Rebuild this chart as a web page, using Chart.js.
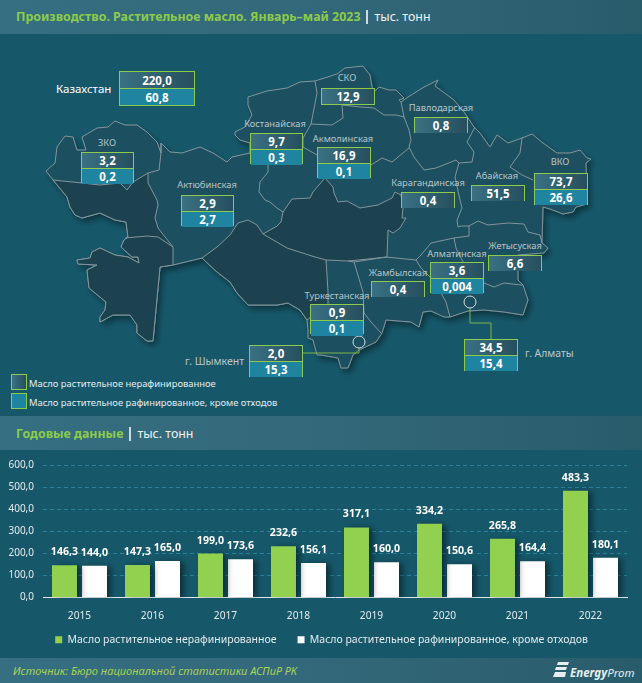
<!DOCTYPE html>
<html>
<head>
<meta charset="utf-8">
<script src="https://cdn.jsdelivr.net/npm/chart.js@4"></script>
<style>
  html, body { margin: 0; padding: 0; }
  body { width: 642px; height: 683px; position: relative; overflow: hidden; background: #16586a; font-family: "Noto Sans", sans-serif; }
  .band { position: absolute; left: 0; width: 642px; background: linear-gradient(90deg, #356f81 0%, #33687a 50%, #295c6b 100%); }
  .head { position: absolute; white-space: nowrap; font-weight: 700; color: #8ccc4a; font-size: 12.4px; line-height: 20px; }
  .head span { color: #eef3f4; font-weight: 400; }
  .head i { display: inline-block; width: 2px; height: 14px; background: #cfdade; margin: 0 6px 0 6px; vertical-align: -3px; }
  .box { position: absolute; box-sizing: border-box; border: 1px solid #8ccc4a; display: flex; flex-direction: column; color: #fff; font-weight: 700; font-size: 11.5px; text-align: center; }
  .box div { flex: 1; display: flex; align-items: center; justify-content: center; }
  .box .a { background: linear-gradient(90deg, #3a7183, #264f5e); }
  .box .b { background: #1f849f; border-top: 1px solid #8ccc4a; }
  .lbl { position: absolute; transform: translate(-50%, -50%); white-space: nowrap; color: #b9c6ca; font-size: 9.3px; }
  .txt { position: absolute; transform: translateY(-50%); white-space: nowrap; color: #e4ebed; font-size: 9.4px; }
  #bars { position: absolute; left: 0; top: 450px; }
</style>
</head>
<body>
<div class="band" style="top:0;height:34px"></div>
<div class="band" style="top:415px;height:35px;border-top:1px solid #1a5567;box-sizing:border-box"></div>
<div class="band" style="top:658px;height:25px"></div>

<svg width="642" height="415" style="position:absolute;left:0;top:0" xmlns="http://www.w3.org/2000/svg">
  <defs>
    <filter id="sh" x="-10%" y="-10%" width="125%" height="125%">
      <feDropShadow dx="3" dy="4" stdDeviation="3" flood-color="#000" flood-opacity="0.4"/>
    </filter>
  </defs>
  <g stroke="#84959a" stroke-width="1" stroke-linejoin="round" fill="none">
    <polygon filter="url(#sh)" fill="#1f4f5e" points="46,171 55,163 57,147 65,136 73,137 77,150 86,150 82,137 97,128 108,127 115,121 125,125 137,125 147,132 157,142 161,153 161,143 170,152 182,153 200,147 213,153 227,162 232,157 250,153 250,143 240,140 235,135 235,132 245,127 252,115 248,105 248,97 267,91 287,88 300,82 315,81 337,74 345,68 363,66 370,75 372,87 374,92 379,87 389,90 396,90 404,98 399,100 401,102 408,97 424,87 438,80 435,86 454,100 464,112 474,127 480,133 490,147 497,135 508,143 522,138 532,134 543,143 557,153 570,153 580,150 587,158 591,159 586,163 587,204 576,207 573,212 563,214 550,209 543,207 542,243 548,248 544,253 518,255 518,280 523,285 528,300 523,315 504,312 484,310 468,311 450,317 444,317 431,311 423,312 419,327 411,322 386,320 382,333 376,342 359,350 353,355 348,368 341,368 338,358 321,355 317,355 313,340 308,338 308,330 307,320 300,310 288,303 277,305 248,305 237,293 230,282 217,272 202,258 173,265 160,267 153,341 147,341 137,333 137,325 130,315 113,315 100,322 100,317 105,310 106,302 95,293 89,288 87,270 97,265 78,264 77,260 90,258 92,252 100,248 115,255 128,257 139,263 138,257 132,257 121,247 124,240 128,237 126,222 115,220 100,213 82,218 75,215 70,207 67,197 53,180"/>
    <polygon fill="#1b424e" points="53,180 82,183 100,185 120,183 127,190 133,182 148,173 148,183 157,200 158,205 155,218 158,228 173,247 173,265 160,267 153,341 147,341 137,333 137,325 130,315 113,315 100,322 100,317 105,310 106,302 95,293 89,288 87,270 97,265 78,264 77,260 90,258 92,252 100,248 115,255 128,257 139,263 138,257 132,257 121,247 124,240 128,237 126,222 115,220 100,213 82,218 75,215 70,207 67,197"/>
    <polygon fill="#1b424e" points="202,258 217,247 230,235 238,223 248,220 257,225 263,234 277,226 281,222 283,212 292,199 310,198 313,192 325,178 333,187 334,193 338,202 347,201 360,208 378,205 392,198 395,192 401,195 403,208 402,218 406,218 400,228 393,233 388,230 387,257 378,258 348,261 326,260 327,275 328,292 328,304 307,320 300,310 288,303 277,305 248,305 237,293 230,282 217,272"/>
    <polyline points="125,238 147,236 158,237 173,247"/>
    <polyline points="161,143 161,153 159,170 148,173"/>
    <polyline points="268,164 268,172 260,182 259,192 265,200 270,202 277,208 283,212"/>
    <polyline points="315,81 317,93 311,124 303,138 303,147 317,155"/>
    <polyline points="311,124 332,125 343,118 342,105 361,107 374,108 384,115 396,115 404,117"/>
    <polyline points="401,102 404,117 409,130 411,140 409,147 414,157 424,170 436,168 456,160 459,163 472,162 474,152 467,142 475,127"/>
    <polyline points="371,165 382,158 392,162 409,148"/>
    <polyline points="459,163 455,177 460,200 462,208 457,220 458,227 461,226 469,226 478,221 488,225 508,223 524,224 528,232 540,235 542,243"/>
    <polyline points="522,138 520,153 510,167 522,175 533,180"/>
    <polyline points="469,226 469,236 454,238 431,243 421,255 416,260 421,268 431,278 441,293 446,302 450,317"/>
    <polyline points="454,238 456,248 463,262 481,275 484,283 494,287 504,283 521,285 523,285"/>
    <polyline points="348,261 354,262 386,257 416,260"/>
    <polyline points="354,262 363,292 364,313 371,322 381,333"/>
    <polyline points="263,234 287,248 315,257 326,260"/>
  </g>
  <polyline points="303,353 359,353 359,348" fill="none" stroke="#7cb648" stroke-width="1"/>
  <polyline points="470,308 470,323 491,323 491,339" fill="none" stroke="#7cb648" stroke-width="1"/>
  <circle cx="359" cy="342" r="6" fill="none" stroke="#d5dee0" stroke-width="1"/>
  <circle cx="470" cy="302" r="6" fill="none" stroke="#d5dee0" stroke-width="1"/>
</svg>

<div class="head" style="left:16px;top:7px">Производство. Растительное масло. Январь–май 2023<i></i><span>тыс. тонн</span></div>
<div class="head" style="left:16px;top:424px">Годовые данные<i></i><span>тыс. тонн</span></div>

<div class="box" style="left:11px;top:374px;width:16px;height:16px"><div class="a"></div></div>
<div class="box" style="left:11px;top:393px;width:16px;height:16px"><div style="background:#1f849f"></div></div>
<div class="txt" style="left:29px;top:383px" id="lg1"></div>
<div class="txt" style="left:29px;top:402px" id="lg2"></div>

<div class="txt" style="left:13px;top:670px;font-style:italic;color:#a9d353;font-size:11px" id="source"></div>
<svg width="20" height="16" style="position:absolute;left:553px;top:662px" xmlns="http://www.w3.org/2000/svg">
  <g fill="#e8eef0"><polygon points="5,0 16,0 15,3 4,3"/><polygon points="3,5 14,5 13,8 2,8"/><polygon points="2,10 13,10 12,15 0,15"/></g>
</svg>
<div class="txt" style="left:570px;top:672px;font-style:italic;font-weight:700;color:#e8eef0;font-size:11.5px">Energy<span style="font-weight:400">Prom</span></div>

<canvas id="bars" width="642" height="233"></canvas>

<script>
const regionNames = ['ЗКО', 'Костанайская', 'Актюбинская', 'СКО', 'Павлодарская', 'Акмолинская', 'Карагандинская',
  'Абайская', 'ВКО', 'Жетысуская', 'Алматинская', 'Жамбылская', 'Туркестанская'];
const regionUnrefined = ['3,2', '9,7', '2,9', '12,9', '0,8', '16,9', '0,4', '51,5', '73,7', '6,6', '3,6', '0,4', '0,9'];
const regionRefined = ['0,2', '0,3', '2,7', null, null, '0,1', null, null, '26,6', null, '0,004', null, '0,1'];

const cityNames = ['Казахстан', 'г. Шымкент', 'г. Алматы'];
const cityUnrefined = ['220,0', '2,0', '34,5'];
const cityRefined = ['60,8', '15,3', '15,4'];

const years = ['2015', '2016', '2017', '2018', '2019', '2020', '2021', '2022'];
const unrefined = [146.3, 147.3, 199.0, 232.6, 317.1, 334.2, 265.8, 483.3];
const refined = [144.0, 165.0, 173.6, 156.1, 160.0, 150.6, 164.4, 180.1];

const seriesNames = ['Масло растительное нерафинированное', 'Масло растительное рафинированное, кроме отходов'];
const sourceText = 'Источник: Бюро национальной статистики АСПиР РК';

// x, y, w, h of the box, then centre of the region label
const regionBoxes = [
  [81, 152, 53, 31, 107, 142], [250, 133, 53, 31, 275, 123], [181, 195, 53, 31, 207, 184],
  [321, 88, 54, 17, 347, 77], [414, 117, 54, 16, 441, 107], [317, 147, 54, 31, 343, 138],
  [401, 192, 54, 16, 428, 182], [471, 185, 54, 16, 497, 175], [534, 173, 54, 32, 560, 161],
  [488, 255, 54, 16, 515, 245], [430, 262, 54, 31, 457, 253], [371, 281, 54, 16, 398, 272],
  [310, 304, 54, 30, 337, 295]
];
const cityBoxes = [[119, 71, 76, 35], [249, 345, 54, 32], [464, 339, 54, 32]];

function addBox(pos, top, bottom) {
  const box = document.createElement('div');
  box.className = 'box';
  box.style.cssText = `left:${pos[0]}px;top:${pos[1]}px;width:${pos[2]}px;height:${pos[3]}px`;
  box.innerHTML = `<div class="a">${top}</div>` + (bottom ? `<div class="b">${bottom}</div>` : '');
  document.body.appendChild(box);
}

function addText(cls, text, css) {
  const el = document.createElement('div');
  el.className = cls;
  el.textContent = text;
  el.style.cssText = css;
  document.body.appendChild(el);
}

regionNames.forEach((name, i) => {
  const p = regionBoxes[i];
  addBox(p, regionUnrefined[i], regionRefined[i]);
  addText('lbl', name, `left:${p[4]}px;top:${p[5]}px`);
});
cityBoxes.forEach((p, i) => addBox(p, cityUnrefined[i], cityRefined[i]));
addText('txt', cityNames[0], 'left:56px;top:88px;color:#fff;font-size:11.5px');
addText('txt', cityNames[1], 'left:185px;top:361px;color:#b9c6ca;font-size:10.5px');
addText('txt', cityNames[2], 'left:525px;top:353px;color:#b9c6ca;font-size:10.4px');

document.getElementById('lg1').textContent = seriesNames[0];
document.getElementById('lg2').textContent = seriesNames[1];
document.getElementById('source').textContent = sourceText;

const comma = (v) => v.toFixed(1).replace('.', ',');

const barExtras = {
  id: 'barExtras',
  // legend padding also sets the gap between items, so pull the box back up here
  afterLayout(chart) {
    chart.legend.top -= 14;
    chart.legend.left += 8;
    chart.legend.right += 8;
  },
  beforeDatasetsDraw(chart) {
    const c = chart.ctx;
    c.save();
    c.shadowColor = 'rgba(0,0,0,0.45)';
    c.shadowBlur = 6;
    c.shadowOffsetX = 4;
    c.shadowOffsetY = 1;
  },
  afterDatasetsDraw(chart) {
    const c = chart.ctx;
    c.restore();
    c.save();
    c.font = '700 10.6px "Noto Sans"';
    c.fillStyle = '#fff';
    c.textAlign = 'center';
    c.textBaseline = 'middle';
    chart.data.datasets.forEach((ds, d) => {
      chart.getDatasetMeta(d).data.forEach((bar, i) => {
        c.fillText(comma(ds.data[i]), bar.x, bar.y - 13);
      });
    });
    c.restore();
  }
};

new Chart(document.getElementById('bars'), {
  type: 'bar',
  data: {
    labels: years,
    datasets: [
      { label: seriesNames[0], data: unrefined, backgroundColor: '#92d050', categoryPercentage: 0.822, barPercentage: 0.833 },
      { label: seriesNames[1], data: refined, backgroundColor: '#ffffff', categoryPercentage: 0.822, barPercentage: 0.833 }
    ]
  },
  options: {
    responsive: false,
    animation: false,
    layout: { padding: { top: 14, right: 15, left: 0, bottom: 14 } },
    plugins: {
      tooltip: { enabled: false },
      legend: {
        position: 'bottom',
        labels: { color: '#e4ebed', boxWidth: 7, boxHeight: 7, padding: 21, font: { family: '"Noto Sans"', size: 10.5 } }
      }
    },
    scales: {
      x: {
        grid: { display: false },
        border: { color: '#dfe8ea', width: 1 },
        ticks: { color: '#e4ebed', padding: 4, font: { family: '"Noto Sans"', size: 10.2 } },
        afterFit(scale) { scale.height = 30; }
      },
      y: {
        min: 0,
        max: 600,
        grid: { color: '#2a8199', drawTicks: false },
        border: { display: false, dash: [4, 3] },
        ticks: { stepSize: 100, color: '#e4ebed', padding: 9, callback: (v) => comma(v), font: { family: '"Noto Sans"', size: 10 } },
        afterFit(scale) { scale.width = 43; }
      }
    }
  },
  plugins: [barExtras]
});
</script>
</body>
</html>
